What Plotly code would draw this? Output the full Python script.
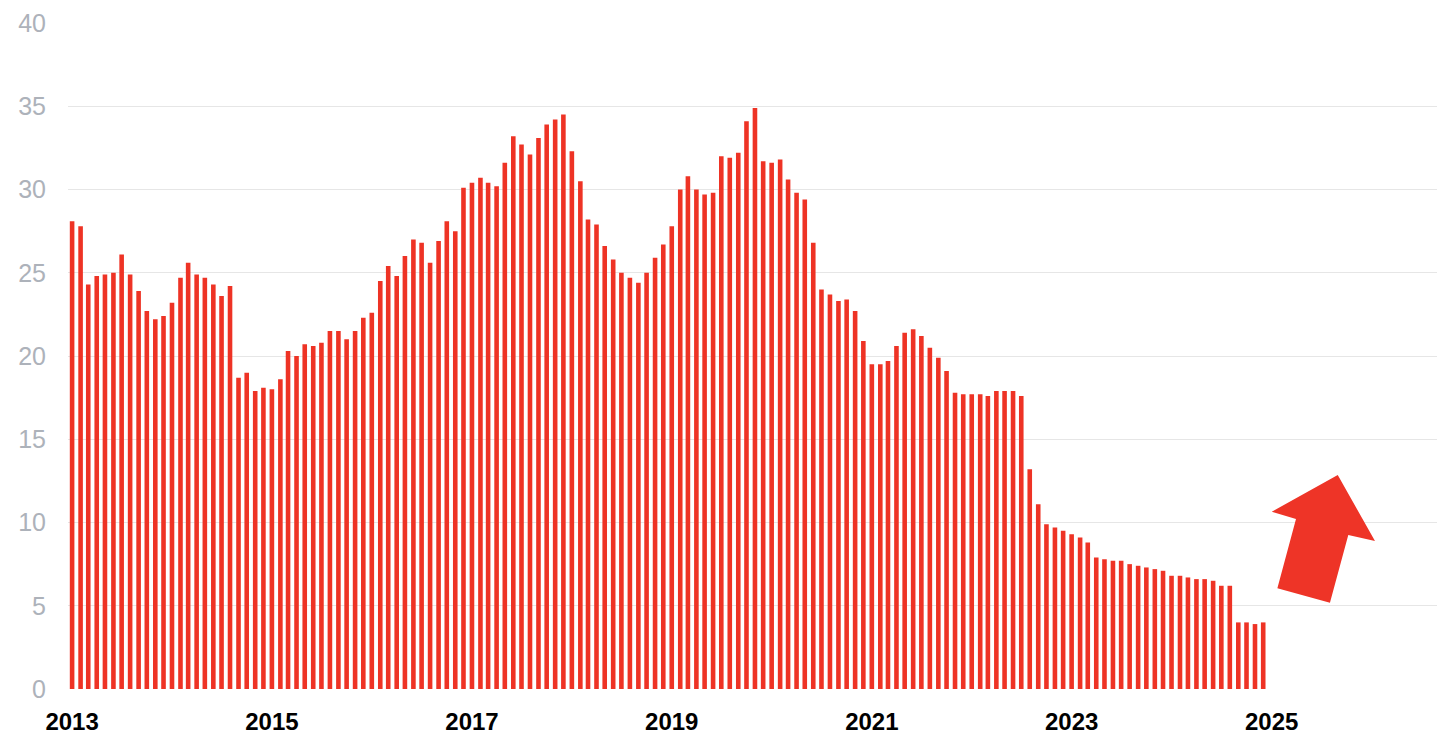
import pandas as pd
import plotly.graph_objects as go

# Monthly values, Jan 2013 .. Dec 2024
months = pd.date_range("2013-01-01", periods=144, freq="MS")
values = [
    # 2013
    28.1, 27.8, 24.3, 24.8, 24.9, 25.0, 26.1, 24.9, 23.9, 22.7, 22.2, 22.4,
    # 2014
    23.2, 24.7, 25.6, 24.9, 24.7, 24.3, 23.6, 24.2, 18.7, 19.0, 17.9, 18.1,
    # 2015
    18.0, 18.6, 20.3, 20.0, 20.7, 20.6, 20.8, 21.5, 21.5, 21.0, 21.5, 22.3,
    # 2016
    22.6, 24.5, 25.4, 24.8, 26.0, 27.0, 26.8, 25.6, 26.9, 28.1, 27.5, 30.1,
    # 2017
    30.4, 30.7, 30.4, 30.2, 31.6, 33.2, 32.7, 32.1, 33.1, 33.9, 34.2, 34.5,
    # 2018
    32.3, 30.5, 28.2, 27.9, 26.6, 25.8, 25.0, 24.7, 24.4, 25.0, 25.9, 26.7,
    # 2019
    27.8, 30.0, 30.8, 30.0, 29.7, 29.8, 32.0, 31.9, 32.2, 34.1, 34.9, 31.7,
    # 2020
    31.6, 31.8, 30.6, 29.8, 29.4, 26.8, 24.0, 23.7, 23.3, 23.4, 22.7, 20.9,
    # 2021
    19.5, 19.5, 19.7, 20.6, 21.4, 21.6, 21.2, 20.5, 19.9, 19.1, 17.8, 17.7,
    # 2022
    17.7, 17.7, 17.6, 17.9, 17.9, 17.9, 17.6, 13.2, 11.1, 9.9, 9.7, 9.5,
    # 2023
    9.3, 9.1, 8.8, 7.9, 7.8, 7.7, 7.7, 7.5, 7.4, 7.3, 7.2, 7.1,
    # 2024
    6.8, 6.8, 6.7, 6.6, 6.6, 6.5, 6.2, 6.2, 4.0, 4.0, 3.9, 4.0,
]

y_ticks = [0, 5, 10, 15, 20, 25, 30, 35, 40]

BAR_RED = "#ee3325"

fig = go.Figure()
fig.add_trace(go.Bar(
    x=months, y=values,
    marker=dict(color=BAR_RED, line=dict(width=0)),
    hoverinfo="x+y",
))

# Decorative up-right arrow (paper coordinates)
arrow_pts = [
    (0.9275, 0.3213), (0.8793, 0.2662), (0.8970, 0.2553),
    (0.8834, 0.1512), (0.9218, 0.1296), (0.9352, 0.2312),
    (0.9547, 0.2222),
]
path = "M " + " L ".join(f"{x},{y}" for x, y in arrow_pts) + " Z"
fig.add_shape(type="path", xref="paper", yref="paper", path=path,
              fillcolor="#ee3427", line=dict(width=0), layer="above")

fig.update_layout(
    width=1437, height=734,
    margin=dict(l=68, r=0, t=23, b=45),
    paper_bgcolor="white", plot_bgcolor="white",
    bargap=0.40,
    showlegend=False,
    font=dict(family="Liberation Sans, Arial, sans-serif"),
    xaxis=dict(
        type="date",
        range=["2012-12-17", "2026-08-28"],
        tick0="2013-01-01", dtick="M24", tickformat="%Y",
        showgrid=False, zeroline=False, showline=False,
        ticks="outside", ticklen=11, tickcolor="rgba(0,0,0,0)",
        tickfont=dict(size=24, color="#000000", weight="bold"),
    ),
    yaxis=dict(
        range=[0, 40],
        tickvals=y_ticks,
        showgrid=True, gridcolor="#e6e6e6", gridwidth=1,
        zeroline=False, showline=False,
        ticks="outside", ticklen=16, tickcolor="rgba(0,0,0,0)",
        tickfont=dict(size=25, color="#adb2ba"),
    ),
)

fig.write_html("out.html", config={"displayModeBar": False},
               post_script="document.body.style.margin='0';")
